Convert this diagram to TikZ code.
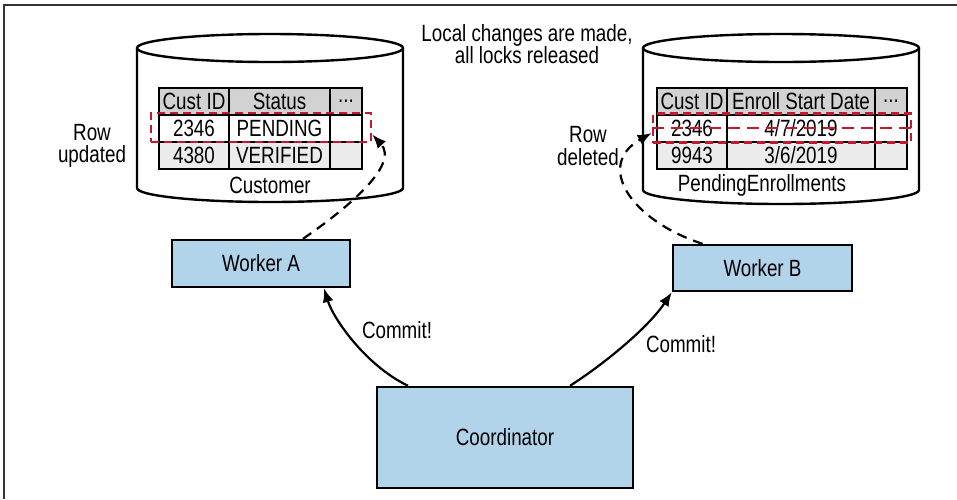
\documentclass[tikz,border=0pt]{standalone}
\usepackage{fontspec}
\setmainfont{Liberation Sans}[FakeStretch=0.8]
\usetikzlibrary{arrows.meta}
\definecolor{boxblue}{RGB}{178,212,234}
\definecolor{hdr}{RGB}{210,210,210}
\definecolor{row}{RGB}{236,236,236}
\definecolor{selred}{RGB}{196,24,48}

\begin{document}
\begin{tikzpicture}[x=1pt,y=-1pt,font=\fontsize{23.5}{22.5}\selectfont,
  box/.style={draw,fill=boxblue,line width=2.4pt,inner sep=0pt},
  cell/.style={draw,line width=2pt,minimum height=27pt,inner sep=0pt},
  db/.style={draw,fill=white,line width=2.4pt},
  sel/.style={draw=selred,line width=2.6pt,dash pattern=on 8pt off 5pt,minimum height=29pt,inner sep=0pt},
  ar/.style={line width=2.2pt,-{Latex[length=14pt,width=11pt]}},
  da/.style={ar,dash pattern=on 10pt off 7pt}]
  \useasboundingbox (0,0) rectangle (957,499);
  \draw[black!80,line width=2pt] (4,499) -- (4,5) -- (957,5);
  % databases
  \foreach \cx/\rx/\bot in {270/133/188,781/138/190} {
    \draw[db] (\cx-\rx,48) -- (\cx-\rx,\bot) arc[start angle=180,end angle=0,x radius=\rx,y radius=14] -- (\cx+\rx,48);
    \draw[db] (\cx,48) ellipse[x radius=\rx,y radius=14]; }
  % Customer table
  \foreach \r/\yy/\fl/\ta/\tb/\tc in {h/101.5/hdr/Cust ID/Status/{.{}.{}.}, 1/128.5/white/2346/PENDING/{}, 2/155.5/row/4380/VERIFIED/{}} {
    \node[cell,fill=\fl,minimum width=70pt] (cu\r a) at (194,\yy) {\ta};
    \node[cell,fill=\fl,minimum width=101pt] (cu\r b) at (279.5,\yy) {\tb};
    \node[cell,fill=\fl,minimum width=32pt] (cu\r c) at (346,\yy) {\tc}; }
  \node (cust) at (270,185) {Customer};
  % PendingEnrollments table
  \foreach \r/\yy/\fl/\ta/\tb/\tc in {h/101.5/hdr/Cust ID/Enroll Start Date/{.{}.{}.}, 1/128.5/white/2346/{4/7/2019}/{}, 2/155.5/row/9943/{3/6/2019}/{}} {
    \node[cell,fill=\fl,minimum width=70pt] (pe\r a) at (692,\yy) {\ta};
    \node[cell,fill=\fl,minimum width=148pt] (pe\r b) at (801,\yy) {\tb};
    \node[cell,fill=\fl,minimum width=32pt] (pe\r c) at (891,\yy) {\tc}; }
  \node (pend) at (762,185) {PendingEnrollments};
  % touched rows
  \node[sel,minimum width=220pt] (upd) at (261,127.5) {};
  \node[sel,minimum width=258pt] (del) at (782,128) {};
  \draw[selred,line width=2.6pt,dash pattern=on 12pt off 7pt] (del.west) -- (del.east);
  % notes
  \node[align=center] (rowu) at (92,146) {Row\\updated};
  \node[align=center] (rowd) at (588,146) {Row\\deleted};
  \node[align=center] (note) at (527,44) {Local changes are made,\\all locks released};
  % processes
  \node[box,minimum width=178pt,minimum height=47pt] (wa) at (261,263.5) {Worker A};
  \node[box,minimum width=179pt,minimum height=46pt] (wb) at (762.5,268) {Worker B};
  \node[box,minimum width=256pt,minimum height=101pt] (co) at (505,437.5) {Coordinator};
  \draw[ar] ([xshift=-97pt]co.north) .. controls (365,365) and (333,318) .. ([xshift=63pt]wa.south);
  \draw[ar] ([xshift=65pt]co.north) .. controls (610,360) and (650,325) .. (wb.south west);
  \node (cma) at (397,330) {Commit!};
  \node (cmb) at (681,344) {Commit!};
  \draw[da] ([xshift=42pt]wa.north) .. controls (345,210) and (400,165) .. ([yshift=-7pt]upd.east);
  \draw[da] ([xshift=-60pt]wb.north) .. controls (630,220) and (595,165) .. ([yshift=-5pt]del.west);
\end{tikzpicture}
\end{document}
